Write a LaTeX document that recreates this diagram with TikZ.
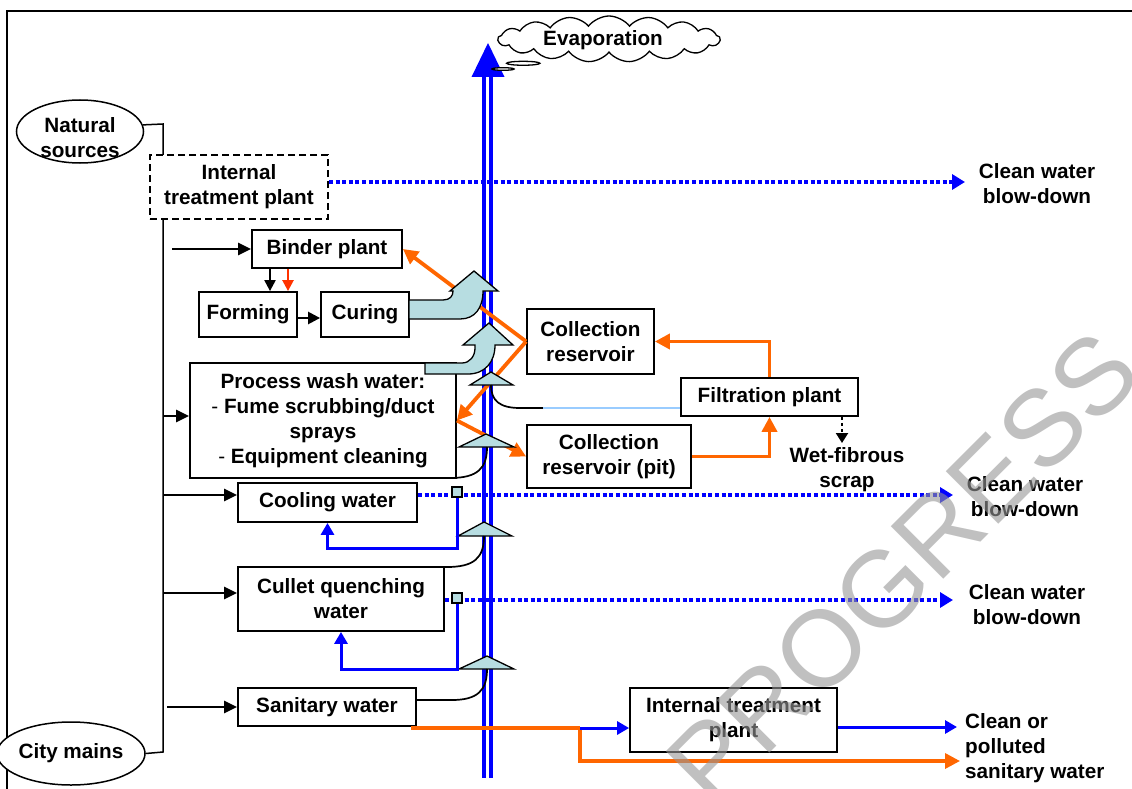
\documentclass[tikz,border=0pt]{standalone}
\usepackage{fontspec}
\setmainfont{Liberation Sans}
\usetikzlibrary{arrows.meta,shapes.geometric,shapes.callouts,calc}
\definecolor{lb}{RGB}{183,221,225}
\definecolor{org}{RGB}{255,102,0}
\definecolor{redo}{RGB}{255,51,0}
\definecolor{bl}{RGB}{0,0,255}
\definecolor{pale}{RGB}{153,204,255}
\definecolor{wmgray}{RGB}{150,150,150}
\begin{document}
\begin{tikzpicture}[x=1pt,y=-1pt,
  every node/.style={font=\fontsize{20.7}{25}\selectfont\bfseries},
  box/.style={draw, line width=1.8pt, fill=white, inner sep=0pt, align=center},
  ell/.style={draw, ellipse, line width=1.5pt, fill=white, inner sep=0pt, align=center},
  lbl/.style={inner sep=0pt, align=center},
  blk/.style={line width=2.8pt, -{Triangle[length=13pt,width=12pt]}},
  thin/.style={line width=1.5pt},
  redarrow/.style={line width=2.4pt, draw=redo, -{Triangle[length=11pt,width=11pt]}},
  orgarrow/.style={line width=3.8pt, draw=org, -{Triangle[length=15pt,width=15pt]}},
  orgline/.style={line width=3.4pt, draw=org},
  dotline/.style={line width=4.4pt, draw=bl, dash pattern=on 4pt off 2.6pt, -{Triangle[length=13pt,width=15pt]}},
  bloop/.style={line width=3pt, draw=bl, -{Triangle[length=12pt,width=13pt]}},
  sq/.style={draw, fill=lb, line width=1.2pt, minimum size=10pt, inner sep=0pt},
  tri/.style={draw, fill=lb, line width=1.3pt},
  curve/.style={line width=1.7pt}
]
\useasboundingbox (0,0) rectangle (1132,789);

% frame
\draw[line width=2.6pt] (7,789) -- (7,11) -- (1132,11);

% sources
\node[ell, minimum width=127pt, minimum height=63pt] (nat) at (80,131.5) {};
\node[lbl] (natT) at (80,138) {Natural\\sources};
\node[ell, minimum width=122pt, minimum height=63pt] (city) at (71,753.5) {City mains};
\draw[thin] (nat.6) -- (163,124) -- (163,752) -- (city.east);

% inlet arrow starts
\coordinate (b0) at (172,249);
\coordinate (w0) at (163,416);
\coordinate (c0) at (163,495);
\coordinate (q0) at (163,593);
\coordinate (s0) at (167,707);

% vertical blue double line
\draw[bl, line width=4.6pt] (484,76) -- (484,778);
\draw[bl, line width=4.6pt] (490.8,76) -- (490.8,778);
\coordinate (vtop) at (488,43);
\fill[bl] (471.5,77) -- (504.5,77) -- (vtop) -- cycle;

% cloud
\node[cloud callout, draw, line width=1.3pt, fill=white, cloud puffs=17, cloud puff arc=105,
      aspect=4.6, minimum width=222pt, minimum height=46pt, inner sep=0pt,
      callout absolute pointer={(503,69)}] (evap) at (609,39) {};
\node[lbl] (evapT) at (603,40) {Evaporation};

% boxes
\node[box, dashed, dash pattern=on 7pt off 4pt, minimum width=178pt, minimum height=64pt] (itp1) at (239,187) {Internal\\treatment plant};
\node[box, minimum width=150pt, minimum height=38pt] (binder) at (327,249) {Binder plant};
\node[box, minimum width=98pt, minimum height=45pt] (forming) at (248,314.5) {Forming};
\node[box, minimum width=88pt, minimum height=45pt] (curing) at (365,314.5) {Curing};
\node[box, minimum width=266pt, minimum height=115pt] (wash) at (323,420.5)
  {Process wash water:\\[-0.5pt]{\mdseries -} Fume scrubbing/duct\\sprays\\{\mdseries -} Equipment cleaning};
\node[box, minimum width=179pt, minimum height=39pt] (cool) at (327.5,502.5) {Cooling water};
\node[box, minimum width=206pt, minimum height=64pt] (cullet) at (341,599) {Cullet quenching\\water};
\node[box, minimum width=178pt, minimum height=38pt] (san) at (327,707) {Sanitary water};
\node[box, minimum width=127pt, minimum height=65pt] (coll) at (590.5,341.5) {Collection\\reservoir};
\node[box, minimum width=177pt, minimum height=38pt] (filt) at (769.5,397) {Filtration plant};
\node[box, minimum width=164pt, minimum height=63pt] (pit) at (609,456.5) {Collection\\reservoir (pit)};
\node[box, minimum width=207pt, minimum height=64pt] (itp2) at (733.5,720) {Internal treatment\\plant};

% labels
\node[lbl] (lab1) at (1037,184) {Clean water\\blow-down};
\node[lbl] (lab2) at (1025,497) {Clean water\\blow-down};
\node[lbl] (lab3) at (1027,605) {Clean water\\blow-down};
\node[lbl] (wet) at (847,470) {Wet-fibrous\\scrap};
\node[lbl, anchor=west, align=left] (lab4) at (965,748) {Clean or\\polluted\\sanitary water};

% black inlet arrows
\draw[blk] (b0) -- (binder.west);
\draw[blk] (w0) -- (wash.west |- w0);
\draw[blk] (c0) -- (cool.west |- c0);
\draw[blk] (q0) -- (cullet.west |- q0);
\draw[blk] (s0) -- (san.west);

% binder/forming/curing
\draw[blk, line width=2.2pt, -{Triangle[length=11pt,width=11pt]}] ($(binder.south)+(-57,0)$) -- ($(forming.north)+(22,0)$);
\draw[redarrow] ($(binder.south)+(-39,0)$) -- ($(forming.north)+(40,0)$);
\draw[blk, line width=2.4pt, -{Triangle[length=12pt,width=12pt]}] ($(forming.east)+(0,3.5)$) -- ($(curing.west)+(0,3.5)$);

% dotted blow-down lines
\coordinate (t1) at (965,182);
\coordinate (t2) at (953,495);
\coordinate (t3) at (953,600);
\draw[dotline] ($(itp1.east)+(0,-5)$) -- (t1);
\draw[dotline] (cool.east |- t2) -- (t2);
\draw[dotline] (cullet.east |- t3) -- (t3);

% orange flows
\draw[orgarrow] (coll.west) -- (binder.east);
\draw[orgarrow] (coll.west) -- (wash.east);
\draw[orgarrow] (wash.east) -- (pit.west);
\draw[orgarrow] (filt.north) -- (filt.north |- coll.east) -- (coll.east);
\draw[orgarrow] (pit.east) -- (pit.east -| filt.south) -- (filt.south);

% filtration scrap
\coordinate (wt) at (842,443);
\draw[line width=2.2pt, dash pattern=on 3.5pt off 2.5pt, -{Triangle[length=10pt,width=12pt]}] ($(filt.south)+(72.5,0)$) -- (wt);

% sanitary outputs
\coordinate (so) at (411,728);
\coordinate (sj) at (580,728);
\coordinate (t4) at (957,727);
\coordinate (t5) at (960,761);
\draw[orgline] (so) -- (sj);
\draw[orgarrow, line width=3.4pt] (sj) -- (580,761) -- (t5);
\draw[bloop] (sj) -- (itp2.west |- sj);
\draw[bloop] (itp2.east |- t4) -- (t4);

% block arrows
\draw[tri] (409,300) -- (443,300) .. controls (450,300) and (453,296) .. (453,291) -- (450,291) -- (474,271) -- (498,291) -- (483,291)
  .. controls (483,308) and (475,319) .. (460,319) -- (409,319) -- cycle;
\draw[tri] (425,363) -- (462,363) .. controls (470,363) and (475,356) .. (475,348) -- (475,345) -- (463,345) -- (489,323) -- (513,345) -- (495,345)
  .. controls (495,362) and (485,374) .. (468,374) -- (425,374) -- cycle;

% triangles
\draw[tri] (470,385) -- (491,372) -- (513,385) -- cycle;
\draw[tri] (459,447) -- (486,434) -- (514,447) -- cycle;
\draw[tri] (458,536) -- (484,522) -- (512,536) -- cycle;
\draw[tri] (459,669) -- (487,656) -- (514,669) -- cycle;

% return curves
\draw[curve] (491,385) .. controls (491,401) and (500,408) .. (520,408) -- (543,408);
\draw[line width=1.3pt, pale] (543,408) -- (filt.west |- 0,408);
\draw[curve] (487,447) .. controls (487,468) and (478,478) .. (450,478) -- (430,478);
\draw[curve] (484,536) .. controls (484,558) and (474,567) .. (447,567) -- (413,567);
\draw[curve] (487,669) .. controls (487,690) and (478,700) .. (452,700) -- (416,700);

% blue loops
\node[sq] (s1) at (457,492) {};
\node[sq] (s2) at (457,598) {};
\draw[bloop] (s1.south) -- ++(0,51) -| (cool.south);
\draw[bloop] (s2.south) -- ++(0,66) -| (cullet.south);

% watermark
\node[rotate=45, text=wmgray, text opacity=0.6, inner sep=0pt, font=\fontsize{108}{108}\selectfont\mdseries] (wm) at (903,568) {PROGRESS};
\end{tikzpicture}
\end{document}
